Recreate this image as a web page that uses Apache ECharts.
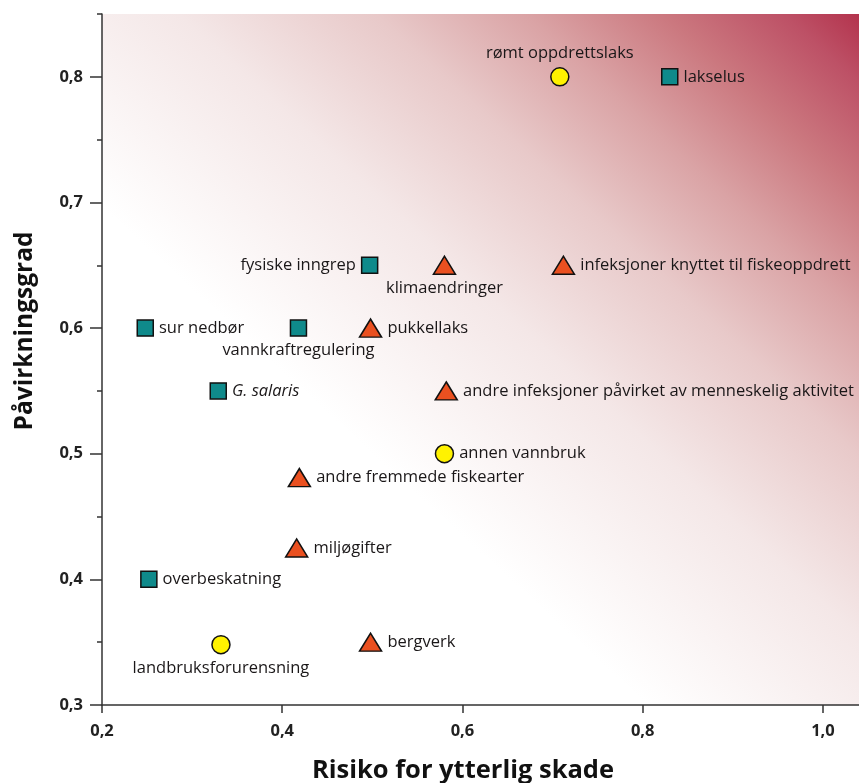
<!DOCTYPE html>
<html><head><meta charset="utf-8">
<script src="https://cdn.jsdelivr.net/npm/echarts@6/dist/echarts.min.js"></script>
<style>html,body{margin:0;padding:0;background:#fff}#c{width:859px;height:783px}</style>
</head><body><div id="c"></div>
<script>
// Squares (teal)
const squareNames = ['lakselus','fysiske inngrep','sur nedbør','vannkraftregulering','G. salaris','overbeskatning'];
const squareX = [0.83, 0.497, 0.248, 0.418, 0.329, 0.252];
const squareY = [0.80, 0.65, 0.60, 0.60, 0.55, 0.40];
const squareLabelPos = ['right','left','right','bottom','right','right'];
// Circles (yellow)
const circleNames = ['rømt oppdrettslaks','annen vannbruk','landbruksforurensning'];
const circleX = [0.708, 0.58, 0.332];
const circleY = [0.80, 0.50, 0.348];
const circleLabelPos = ['top','right','bottom'];
// Triangles (orange)
const triNames = ['klimaendringer','infeksjoner knyttet til fiskeoppdrett','pukkellaks','andre infeksjoner påvirket av menneskelig aktivitet','andre fremmede fiskearter','miljøgifter','bergverk'];
const triX = [0.58, 0.712, 0.498, 0.582, 0.419, 0.416, 0.498];
const triY = [0.65, 0.65, 0.60, 0.55, 0.481, 0.425, 0.35];
const triLabelPos = ['bottom','right','right','right','right','right','right'];
// Axis ticks and titles
const xTicks = [0.2, 0.4, 0.6, 0.8, 1.0];
const yTicks = [0.3, 0.4, 0.5, 0.6, 0.7, 0.8];
const xTitle = 'Risiko for ytterlig skade';
const yTitle = 'Påvirkningsgrad';

const FONT = '"Open Sans", "Noto Sans", sans-serif';
const fmt = v => v.toFixed(1).replace('.', ',');

function build(names, xs, ys, pos) {
  return names.map((n, i) => {
    const item = { name: n, value: [xs[i], ys[i]], label: { position: pos[i] } };
    if (n === 'G. salaris') item.label.fontStyle = 'italic';
    return item;
  });
}
const labelBase = { show: true, formatter: '{b}', color: '#1a1718', fontSize: 16.5, fontFamily: FONT, distance: 5 };

const chart = echarts.init(document.getElementById('c'), null, { renderer: 'canvas' });
chart.setOption({
  animation: false,
  grid: {
    left: 102, right: 0, top: 14, bottom: 78, show: true, borderWidth: 0,
    backgroundColor: {
      type: 'linear', x: 136.5, y: 736.4, x2: 825, y2: -17.4, global: true,
      colorStops: [
        { offset: 0, color: '#ffffff' },
        { offset: 0.36, color: '#ffffff' },
        { offset: 0.55, color: '#f4e7e7' },
        { offset: 0.68, color: '#e8c9c9' },
        { offset: 0.78, color: '#daa3a5' },
        { offset: 0.87, color: '#cb787f' },
        { offset: 0.95, color: '#bd5166' },
        { offset: 1, color: '#b3334d' }
      ]
    }
  },
  graphic: [
    { type: 'text', x: 463, y: 771, style: { text: xTitle, align: 'center', verticalAlign: 'middle', font: 'bold 25.5px ' + FONT, fill: '#111' } },
    { type: 'text', x: 25, y: 331, rotation: Math.PI / 2, style: { text: yTitle, align: 'center', verticalAlign: 'middle', font: 'bold 24.5px ' + FONT, fill: '#111' } }
  ],
  xAxis: {
    type: 'value', min: 0.2, max: 1.04, interval: 0.2,
    splitLine: { show: false },
    axisLine: { show: true, lineStyle: { color: '#333', width: 1.5 } },
    axisTick: { show: true, length: 8, customValues: xTicks, lineStyle: { color: '#333', width: 1.5 } },
    axisLabel: { customValues: xTicks, formatter: fmt, fontSize: 16.5, fontWeight: 'bold', color: '#222', fontFamily: FONT, margin: 18 }
  },
  yAxis: [
    {
      type: 'value', min: 0.3, max: 0.85, interval: 0.05,
      splitLine: { show: false },
      axisLine: { show: true, lineStyle: { color: '#333', width: 1.5 } },
      axisTick: { show: true, length: 5, lineStyle: { color: '#333', width: 1.5 } },
      axisLabel: { show: false }
    },
    {
      type: 'value', min: 0.3, max: 0.85, interval: 0.1, position: 'left',
      splitLine: { show: false },
      axisLine: { show: false },
      axisTick: { show: true, length: 12, customValues: yTicks, lineStyle: { color: '#333', width: 1.5 } },
      axisLabel: { customValues: yTicks, formatter: fmt, fontSize: 16.5, fontWeight: 'bold', color: '#222', fontFamily: FONT, margin: 19 }
    }
  ],
  series: [
    {
      type: 'scatter', symbol: 'rect', symbolSize: 16,
      itemStyle: { color: '#0f8a8b', borderColor: '#111', borderWidth: 1.5, opacity: 1 },
      label: labelBase,
      data: build(squareNames, squareX, squareY, squareLabelPos)
    },
    {
      type: 'scatter', symbol: 'circle', symbolSize: 18,
      itemStyle: { color: '#fff200', borderColor: '#111', borderWidth: 1.5, opacity: 1 },
      label: labelBase,
      data: build(circleNames, circleX, circleY, circleLabelPos)
    },
    {
      type: 'scatter', symbol: 'triangle', symbolSize: [22, 18],
      itemStyle: { color: '#ea5020', borderColor: '#111', borderWidth: 1.5, opacity: 1 },
      label: labelBase,
      data: build(triNames, triX, triY, triLabelPos)
    }
  ]
});
</script></body></html>
